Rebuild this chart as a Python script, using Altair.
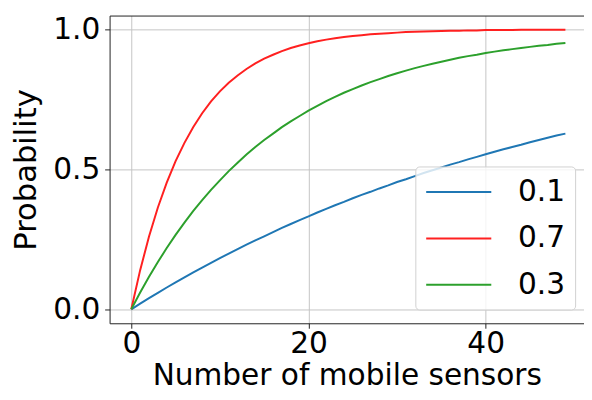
import altair as alt
import pandas as pd

n_sensors = list(range(50))

p_01 = [0.000, 0.020, 0.040, 0.059, 0.078, 0.096, 0.114, 0.132, 0.149, 0.166,
        0.183, 0.199, 0.215, 0.231, 0.246, 0.261, 0.276, 0.291, 0.305, 0.319,
        0.332, 0.346, 0.359, 0.372, 0.384, 0.397, 0.409, 0.420, 0.432, 0.443,
        0.455, 0.465, 0.476, 0.487, 0.497, 0.507, 0.517, 0.526, 0.536, 0.545,
        0.554, 0.563, 0.572, 0.580, 0.588, 0.597, 0.605, 0.613, 0.621, 0.628]

p_07 = [0.000, 0.140, 0.260, 0.364, 0.453, 0.530, 0.595, 0.652, 0.701, 0.743,
        0.779, 0.810, 0.836, 0.859, 0.879, 0.896, 0.910, 0.923, 0.934, 0.943,
        0.951, 0.958, 0.964, 0.969, 0.973, 0.977, 0.980, 0.983, 0.985, 0.987,
        0.989, 0.991, 0.992, 0.993, 0.994, 0.995, 0.996, 0.996, 0.997, 0.997,
        0.998, 0.998, 0.998, 0.998, 0.999, 0.999, 0.999, 0.999, 0.999, 0.999]

p_03 = [0.000, 0.060, 0.116, 0.169, 0.219, 0.266, 0.310, 0.352, 0.390, 0.427,
        0.461, 0.494, 0.524, 0.553, 0.580, 0.605, 0.628, 0.651, 0.672, 0.691,
        0.710, 0.727, 0.744, 0.759, 0.774, 0.787, 0.800, 0.812, 0.823, 0.834,
        0.844, 0.853, 0.862, 0.870, 0.878, 0.885, 0.892, 0.899, 0.905, 0.910,
        0.916, 0.921, 0.926, 0.930, 0.934, 0.938, 0.942, 0.945, 0.949, 0.952]

series_labels = ["0.1", "0.7", "0.3"]
series_colors = ["#1f77b4", "#ff2020", "#2ca02c"]
x_ticks = [0, 20, 40]
y_ticks = [0.0, 0.5, 1.0]

rows = []
for order, (lab, vals) in enumerate(zip(series_labels, [p_01, p_07, p_03])):
    for n, v in zip(n_sensors, vals):
        rows.append({"n": n, "prob": v, "series": lab, "order": order})
df = pd.DataFrame(rows)

FONT = "DejaVu Sans"
x_scale = alt.Scale(domain=[-2.45, 51.1], nice=False, zero=False)
y_scale = alt.Scale(domain=[-0.05, 1.05], nice=False, zero=False)

lines = alt.Chart(df).mark_line(strokeWidth=2, clip=True).encode(
    x=alt.X("n:Q", scale=x_scale,
            axis=alt.Axis(values=x_ticks, title="Number of mobile sensors",
                          format="d", grid=True, labelPadding=1,
                          titleFontSize=30,
                          titleBaseline="alphabetic", titleY=62)),
    y=alt.Y("prob:Q", scale=y_scale,
            axis=alt.Axis(values=y_ticks, title="Probability", format=".1f",
                          grid=True, labelPadding=5, titlePadding=10)),
    color=alt.Color("series:N",
                    scale=alt.Scale(domain=series_labels, range=series_colors),
                    sort=series_labels,
                    legend=alt.Legend(orient="none", legendX=310, legendY=153,
                                      title=None,
                                      symbolType="M-1,0H3.4",
                                      symbolSize=900, symbolStrokeWidth=2,
                                      labelFontSize=30, labelFont=FONT,
                                      labelColor="#000000", labelOffset=62,
                                      rowPadding=16, padding=10,
                                      fillColor="rgba(255,255,255,0.8)",
                                      strokeColor="#d0d0d0", cornerRadius=4)),
    order=alt.Order("order:Q"),
    detail="series:N",
)

top_frame = alt.Chart(df).mark_point(opacity=0).encode(
    x=alt.X("n:Q", scale=x_scale,
            axis=alt.Axis(orient="top", labels=False, ticks=False, grid=False,
                          domain=True, title=None)),
)

chart = alt.layer(lines, top_frame).resolve_axis(x="independent").properties(
    width=481, height=312,
    autosize=alt.AutoSizeParams(type="none"),
    padding={"left": 103, "top": 5, "right": 0, "bottom": 67},
).configure_view(stroke=None).configure_axis(
    labelFont=FONT, titleFont=FONT, labelFontSize=30, titleFontSize=31,
    labelColor="#000000", titleColor="#000000", titleFontWeight="normal",
    domainColor="#222222", domainWidth=1, tickColor="#222222", tickSize=5,
    tickWidth=1, gridColor="#c4c4c4", gridWidth=1,
)

chart.save("out.html", embed_options={"renderer": "svg", "actions": False})
